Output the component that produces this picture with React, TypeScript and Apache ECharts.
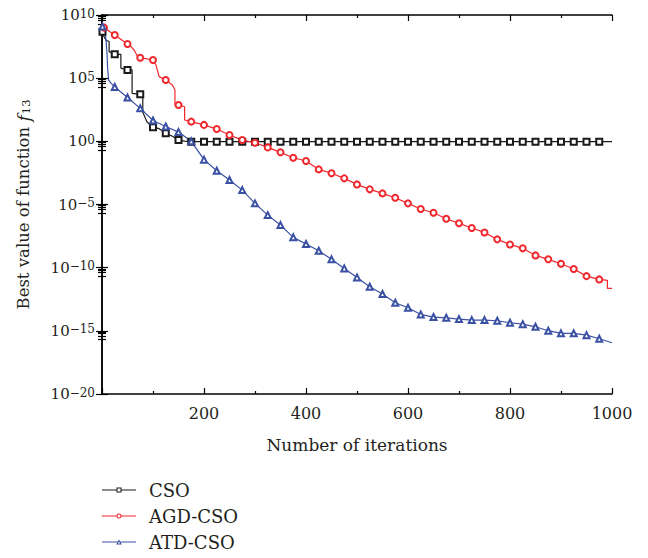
import React, { useEffect, useRef } from "react";
import * as echarts from "echarts";

// Iteration numbers and log10 of the best value found, per algorithm.
const csoIter = [1, 4, 8, 14, 14, 25, 37, 37, 50, 59, 59, 75, 80, 80, 88, 100, 112, 125, 138, 150, 162, 175,
  200, 225, 250, 275, 300, 325, 350, 375, 400, 425, 450, 475, 500, 525, 550, 575, 600, 625, 650, 675,
  700, 725, 750, 775, 800, 825, 850, 875, 900, 925, 950, 975, 1000];
const csoLog = [8.68, 8.28, 8.0, 7.9, 7.1, 6.89, 6.89, 5.8, 5.65, 5.65, 3.8, 3.72, 3.72, 2.3, 1.55, 1.12, 1.0, 0.63, 0.4, 0.1, 0.02, -0.03,
  -0.03, -0.03, -0.03, -0.03, -0.03, -0.03, -0.03, -0.03, -0.03, -0.03, -0.03, -0.03, -0.03, -0.03, -0.03, -0.03, -0.03, -0.03, -0.03, -0.03,
  -0.03, -0.03, -0.03, -0.03, -0.03, -0.03, -0.03, -0.03, -0.03, -0.03, -0.03, -0.03, -0.03];

const agdIter = [4, 25, 50, 57, 63, 70, 75, 100, 106, 112, 125, 138, 143, 143, 150, 162, 162, 175,
  200, 225, 250, 275, 300, 325, 350, 375, 400, 425, 450, 475, 500, 525, 550, 575, 600, 625, 650, 675,
  700, 725, 750, 775, 800, 825, 850, 875, 900, 925, 950, 975, 991, 991, 1000];
const agdLog = [9.0, 8.42, 7.7, 7.49, 7.23, 6.7, 6.62, 6.44, 6.04, 5.12, 4.85, 4.46, 4.06, 2.88, 2.88, 2.74, 1.69, 1.56,
  1.3, 0.97, 0.5, 0.1, -0.11, -0.48, -0.87, -1.3, -1.56, -2.22, -2.53, -2.93, -3.41, -3.8, -4.12, -4.47, -4.91, -5.36, -5.65, -6.13,
  -6.49, -6.86, -7.21, -7.76, -8.16, -8.47, -9.03, -9.34, -9.69, -10.11, -10.67, -10.93, -11.0, -11.64, -11.64];

const atdIter = [1, 5, 8, 10, 11, 13, 18, 25, 50, 75, 100, 125, 150, 175,
  200, 225, 250, 275, 300, 325, 350, 375, 400, 425, 450, 475, 500, 525, 550, 575, 600, 625, 650, 675,
  700, 725, 750, 775, 800, 825, 850, 875, 900, 925, 950, 975, 1000];
const atdLog = [9.08, 8.81, 8.02, 6.83, 5.78, 4.85, 4.59, 4.3, 3.47, 2.61, 1.65, 1.17, 0.73, 0.0,
  -1.45, -2.33, -3.06, -3.86, -4.91, -5.84, -6.63, -7.6, -8.13, -8.66, -9.34, -10.06, -10.77, -11.51, -12.09, -12.78, -13.17, -13.7, -13.91, -13.97,
  -14.07, -14.15, -14.15, -14.2, -14.36, -14.47, -14.68, -14.99, -15.2, -15.2, -15.34, -15.63, -15.94];

const xTicks = [200, 400, 600, 800, 1000];
const seriesNames = ["CSO", "AGD-CSO", "ATD-CSO"];
const seriesColors = ["#1a1a1a", "#f0282d", "#3a51a3"];
const seriesSymbols = ["emptyRect", "emptyCircle", "emptyTriangle"];

// Legend keys (34 x 5 box): a line with a hollow marker in the middle.
const LINE_L = "M0 1.9 L14.6 1.9 L14.6 3.1 L0 3.1 Z";
const LINE_R = "M19.4 1.9 L34 1.9 L34 3.1 L19.4 3.1 Z";
const legendIcons = [
  `path://${LINE_L} ${LINE_R} M14.5 0 L19.5 0 L19.5 5 L14.5 5 Z M15.5 1 L15.5 4 L18.5 4 L18.5 1 Z`,
  `path://${LINE_L} ${LINE_R} M19.5 2.5 A2.5 2.5 0 1 1 14.5 2.5 A2.5 2.5 0 1 1 19.5 2.5 Z M18.5 2.5 A1.5 1.5 0 1 0 15.5 2.5 A1.5 1.5 0 1 0 18.5 2.5 Z`,
  `path://M0 1.9 L15.6 1.9 L15.6 3.1 L0 3.1 Z M18.4 1.9 L34 1.9 L34 3.1 L18.4 3.1 Z M17 0 L19.8 5 L14.2 5 Z M17 1.9 L15.8 4.1 L18.2 4.1 Z`,
];

const FONT = "'DejaVu Serif', 'Liberation Serif', serif";
const TEXT = "#231f20";

// Line points, with a marker on the first point and every 25 iterations.
function toPoints(iters: number[], logs: number[]) {
  return iters.map((it, i) => {
    const value = [it, Math.pow(10, logs[i])];
    const marked = i === 0 || (it % 25 === 0 && it < 1000);
    return marked ? { value } : { value, symbol: "none" };
  });
}

function powerLabel(v: number) {
  const e = Math.round(Math.log10(v));
  const s = e < 0 ? "\u2212" + Math.abs(e) : String(e);
  return `{base|10}{sup|${s}}`;
}

export default function App() {
  const ref = useRef<HTMLDivElement>(null);

  useEffect(() => {
    if (!ref.current) return;
    const chart = echarts.init(ref.current, null, { renderer: "svg" });

    const lineSeries = (idx: number, iters: number[], logs: number[]) => {
      const color = seriesColors[idx];
      return {
        name: seriesNames[idx],
        type: "line",
        data: toPoints(iters, logs),
        symbol: seriesSymbols[idx],
        symbolSize: 6,
        showAllSymbol: true,
        lineStyle: { color, width: 1.2 },
        itemStyle: { color, borderColor: color, borderWidth: 1.1 },
        emphasis: { disabled: true },
        z: 3,
      };
    };

    const yCommon = {
      type: "log",
      logBase: 10,
      min: 1e-20,
      max: 1e10,
      interval: 5,
      axisLine: { show: true, lineStyle: { color: "#000", width: 1.5 } },
      axisTick: { show: true, inside: true, length: 6, lineStyle: { color: "#000", width: 1.2 } },
      minorTick: { show: true, splitNumber: 5, length: 4, lineStyle: { color: "#000", width: 1.2 } },
      splitLine: { show: false },
      minorSplitLine: { show: false },
    };

    const xCommon = {
      type: "value",
      min: 0,
      max: 1000,
      interval: 200,
      axisLine: { show: true, onZero: false, lineStyle: { color: "#000", width: 1.5 } },
      axisTick: { show: true, inside: true, length: 6, lineStyle: { color: "#000", width: 1.2 } },
      minorTick: { show: true, splitNumber: 2, length: 3, lineStyle: { color: "#000", width: 1.2 } },
      splitLine: { show: false },
      minorSplitLine: { show: false },
    };

    chart.setOption({
      animation: false,
      backgroundColor: "#fff",
      grid: { left: 102, right: 36, top: 15, bottom: 164 },
      legend: {
        data: seriesNames.map((name, i) => ({
          name,
          icon: legendIcons[i],
          itemStyle: { color: seriesColors[i], borderWidth: 0 },
        })),
        orient: "vertical",
        left: 97,
        top: 476,
        itemWidth: 34,
        itemHeight: 5,
        itemGap: 8,
        textStyle: { fontFamily: FONT, fontSize: 18, color: TEXT, padding: [0, 0, 0, 8] },
      },
      xAxis: [
        {
          ...xCommon,
          position: "bottom",
          axisLabel: {
            margin: 11,
            fontFamily: FONT,
            fontSize: 16,
            color: TEXT,
            formatter: (v: number) => (xTicks.includes(v) ? String(v) : ""),
          },
          name: "Number of iterations",
          nameLocation: "middle",
          nameGap: 42,
          nameTextStyle: { fontFamily: FONT, fontSize: 17, color: TEXT },
        },
        { ...xCommon, position: "top", axisLabel: { show: false } },
      ],
      yAxis: [
        {
          ...yCommon,
          position: "left",
          axisLabel: {
            margin: 7,
            fontFamily: FONT,
            fontSize: 15,
            color: TEXT,
            formatter: powerLabel,
            rich: {
              base: { fontFamily: FONT, fontSize: 15, color: TEXT, lineHeight: 15, padding: [5, 0, 0, 0], verticalAlign: "bottom" },
              sup: { fontFamily: FONT, fontSize: 12, color: TEXT, lineHeight: 12, verticalAlign: "top" },
            },
          },
          name: "Best value of function {i|f}{sub|13}",
          nameLocation: "middle",
          nameGap: 70,
          nameRotate: 90,
          nameTextStyle: {
            fontFamily: FONT,
            fontSize: 16.5,
            color: TEXT,
            rich: {
              i: { fontFamily: FONT, fontSize: 17.5, fontStyle: "italic", color: TEXT, verticalAlign: "top", lineHeight: 17, padding: [0, 1, 0, 0] },
              sub: { fontFamily: FONT, fontSize: 11.5, color: TEXT, verticalAlign: "bottom", lineHeight: 11, padding: [8, 0, 0, 0] },
            },
          },
        },
        { ...yCommon, position: "right", axisLabel: { show: false } },
      ],
      series: [
        lineSeries(0, csoIter, csoLog),
        lineSeries(1, agdIter, agdLog),
        lineSeries(2, atdIter, atdLog),
      ],
    });

    return () => chart.dispose();
  }, []);

  return <div ref={ref} style={{ position: "absolute", left: 0, top: 0, width: 648, height: 558 }} />;
}
